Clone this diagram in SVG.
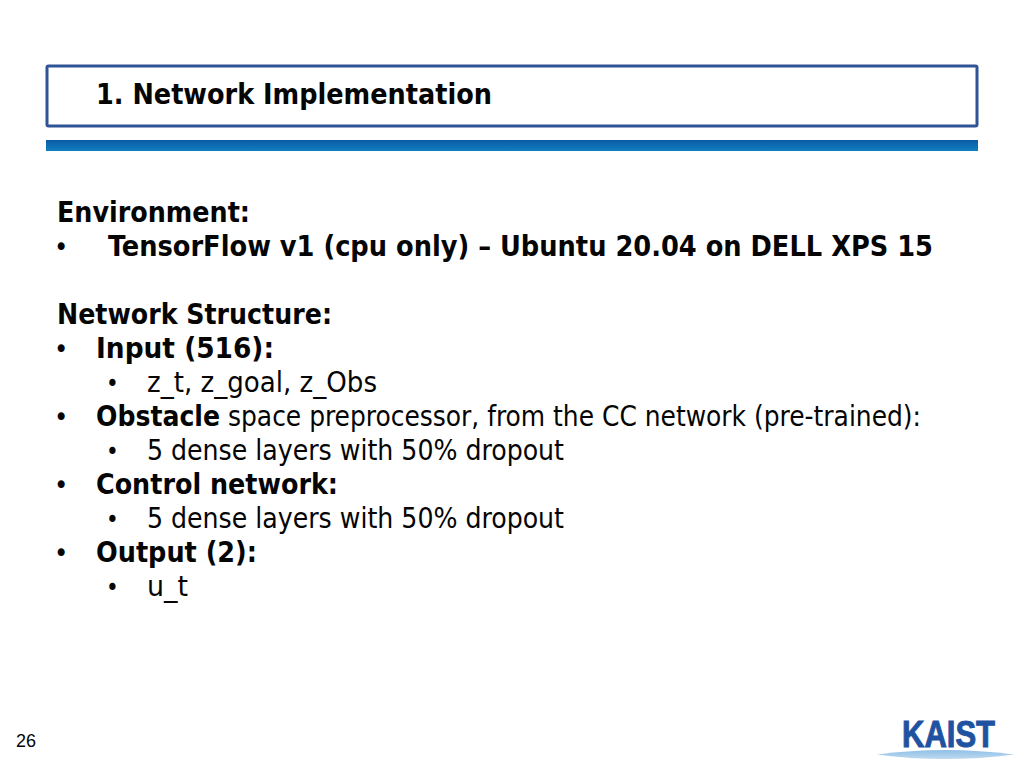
<svg xmlns="http://www.w3.org/2000/svg" width="1024" height="768" viewBox="0 0 1024 768">
<defs>
<linearGradient id="bar" x1="0" x2="0" y1="0" y2="1"><stop offset="0" stop-color="#0b5aa6"/><stop offset="1" stop-color="#1080bf"/></linearGradient>
<linearGradient id="lens" x1="0" x2="0" y1="0" y2="1"><stop offset="0" stop-color="#8fc0e6"/><stop offset="1" stop-color="#bcd9f0"/></linearGradient>
</defs>
<style>
text{font-family:"DejaVu Sans","Liberation Sans",sans-serif;font-stretch:condensed;fill:#050505;font-size:27.5px}
.b{font-weight:700}
.d{font-size:27px}
.e{font-size:24px}
</style>
<rect width="1024" height="768" fill="#fff"/>
<g id="header">
<rect x="47" y="66" width="930" height="60" fill="#fff" stroke="#2f5597" stroke-width="3" rx="1.5"/>
<rect x="46" y="140" width="932" height="11" fill="url(#bar)"/>
<text class="b" x="96" y="104" textLength="396" lengthAdjust="spacingAndGlyphs">1. Network Implementation</text>
</g>
<g id="body">
<text class="b" x="57" y="222" textLength="193" lengthAdjust="spacingAndGlyphs">Environment:</text>
<text class="d" x="54" y="256">•</text>
<text class="b" x="108" y="256" textLength="825" lengthAdjust="spacingAndGlyphs">TensorFlow v1 (cpu only) – Ubuntu 20.04 on DELL XPS 15</text>
<text class="b" x="57" y="324" textLength="275" lengthAdjust="spacingAndGlyphs">Network Structure:</text>
<text class="d" x="54" y="358">•</text>
<text class="b" x="96" y="358" textLength="178" lengthAdjust="spacingAndGlyphs">Input (516):</text>
<text class="e" x="106" y="392">•</text>
<text x="147" y="392" textLength="230" lengthAdjust="spacingAndGlyphs">z_t, z_goal, z_Obs</text>
<text class="d" x="54" y="426">•</text>
<text class="b" x="96" y="426" textLength="124" lengthAdjust="spacingAndGlyphs">Obstacle</text>
<text x="228" y="426" textLength="693" lengthAdjust="spacingAndGlyphs">space preprocessor, from the CC network (pre-trained):</text>
<text class="e" x="106" y="460">•</text>
<text x="147" y="460" textLength="417" lengthAdjust="spacingAndGlyphs">5 dense layers with 50% dropout</text>
<text class="d" x="54" y="494">•</text>
<text class="b" x="96" y="494" textLength="242" lengthAdjust="spacingAndGlyphs">Control network:</text>
<text class="e" x="106" y="528">•</text>
<text x="147" y="528" textLength="417" lengthAdjust="spacingAndGlyphs">5 dense layers with 50% dropout</text>
<text class="d" x="54" y="562">•</text>
<text class="b" x="96" y="562" textLength="161" lengthAdjust="spacingAndGlyphs">Output (2):</text>
<text class="e" x="106" y="596">•</text>
<text x="147" y="596" textLength="41" lengthAdjust="spacingAndGlyphs">u_t</text>
</g>
<g id="footer">
<text x="16" y="747" style="font-family:'Liberation Sans',sans-serif;font-size:18px;font-stretch:normal">26</text>
<path d="M877 754.5 Q945 745.5 1014 754.5 Q945 763.5 877 754.5Z" fill="url(#lens)"/>
<text x="902" y="747" textLength="93" lengthAdjust="spacingAndGlyphs" style="font-family:'Liberation Sans',sans-serif;font-size:37px;font-weight:700;font-stretch:normal;fill:#1f52a0;stroke:#1f52a0;stroke-width:1">KAIST</text>
</g>
</svg>
